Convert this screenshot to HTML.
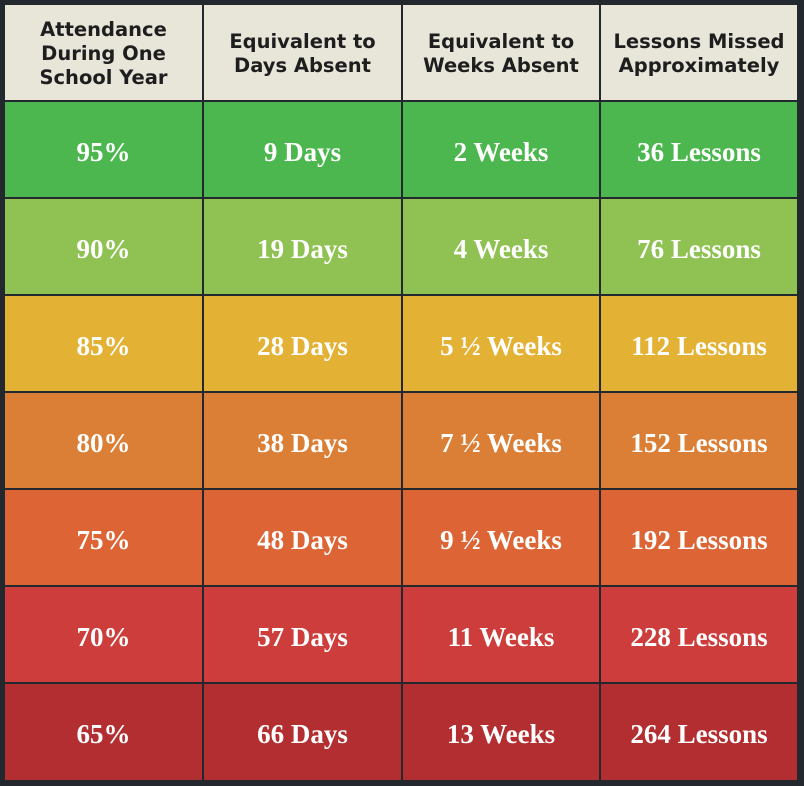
<!DOCTYPE html>
<html><head><style>
body{margin:0;width:804px;height:786px;background:#23272e;overflow:hidden}
.c{position:absolute;display:flex;align-items:center;justify-content:center;text-align:center;box-sizing:border-box}
.h{background:#e8e5d9;color:#1e1e1e;font-family:"DejaVu Sans","Liberation Sans",sans-serif;font-weight:bold;font-size:19.5px;line-height:24px;padding-top:2px}
.d{color:#fff;font-family:"Liberation Serif",serif;font-weight:bold;font-size:27px;padding-top:5px}
</style></head><body>
<div id="t"></div>
<script>
var xs=[5,203,402,600,797],ys=[5,101,198,295,392,489,586,683,780];
var H=["Attendance<br>During One<br>School Year","Equivalent to<br>Days Absent","Equivalent to<br>Weeks Absent","Lessons Missed<br>Approximately"];
var R=[["#4db74f","95%","9 Days","2 Weeks","36 Lessons"],["#8fc252","90%","19 Days","4 Weeks","76 Lessons"],["#e3b133","85%","28 Days","5 ½ Weeks","112 Lessons"],["#da7f35","80%","38 Days","7 ½ Weeks","152 Lessons"],["#dd6535","75%","48 Days","9 ½ Weeks","192 Lessons"],["#cd3d3c","70%","57 Days","11 Weeks","228 Lessons"],["#b32e31","65%","66 Days","13 Weeks","264 Lessons"]];
var s="";
for(var r=0;r<8;r++)for(var c=0;c<4;c++){
var x=xs[c]+(c?1:0),y=ys[r]+(r?1:0),w=xs[c+1]-x-(c<3?1:0),h=ys[r+1]-y-(r<7?1:0);
if(r==0)s+='<div class="c h" style="left:'+x+'px;top:'+y+'px;width:'+w+'px;height:'+h+'px">'+H[c]+'</div>';
else s+='<div class="c d" style="left:'+x+'px;top:'+y+'px;width:'+w+'px;height:'+h+'px;background:'+R[r-1][0]+'">'+R[r-1][c+1]+'</div>';}
document.getElementById("t").innerHTML=s;
</script>
</body></html>
